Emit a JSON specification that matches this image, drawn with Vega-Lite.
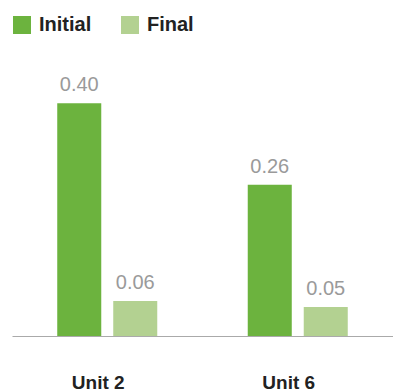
{
  "$schema": "https://vega.github.io/schema/vega-lite/v6.json",
  "width": 381,
  "height": 291,
  "autosize": {"type": "none"},
  "padding": {"left": 12, "top": 45, "right": 0, "bottom": 53},
  "config": {
    "view": {"stroke": null},
    "font": "Liberation Sans"
  },
  "data": {
    "values": [
      {"unit": "Unit 2", "phase": "Initial", "value": 0.40},
      {"unit": "Unit 2", "phase": "Final", "value": 0.06},
      {"unit": "Unit 6", "phase": "Initial", "value": 0.26},
      {"unit": "Unit 6", "phase": "Final", "value": 0.05}
    ]
  },
  "encoding": {
    "x": {
      "field": "unit", "type": "nominal",
      "scale": {"paddingInner": 0, "paddingOuter": 0},
      "axis": {
        "title": null, "ticks": false, "labelAngle": 0,
        "domainColor": "#aaaaaa", "domainWidth": 1.2,
        "labelFontSize": 19, "labelFontWeight": "bold", "labelColor": "#222222",
        "labelPadding": 37, "labelOffset": -9, "labelBaseline": "top"
      }
    },
    "xOffset": {
      "field": "phase", "type": "nominal", "sort": ["Initial", "Final"],
      "scale": {"paddingInner": 0.214, "paddingOuter": 0.808}
    },
    "y": {
      "field": "value", "type": "quantitative",
      "scale": {"domain": [0, 0.5]},
      "axis": null
    }
  },
  "layer": [
    {
      "mark": {"type": "bar"},
      "encoding": {
        "color": {
          "field": "phase", "type": "nominal", "sort": ["Initial", "Final"],
          "scale": {"domain": ["Initial", "Final"], "range": ["#6cb33e", "#b3d191"]},
          "legend": {
            "title": null, "orient": "none", "direction": "horizontal",
            "legendX": 0, "legendY": -30,
            "symbolType": "square", "symbolSize": 324, "symbolStrokeWidth": 0,
            "symbolOpacity": 1,
            "labelFontSize": 20, "labelFontWeight": "bold", "labelColor": "#222222",
            "labelOffset": 7, "columnPadding": 28
          }
        }
      }
    },
    {
      "mark": {"type": "text", "dy": -8, "baseline": "bottom", "fontSize": 20, "color": "#9a9a9a"},
      "encoding": {
        "text": {"field": "value", "type": "quantitative", "format": ".2f"}
      }
    }
  ]
}
